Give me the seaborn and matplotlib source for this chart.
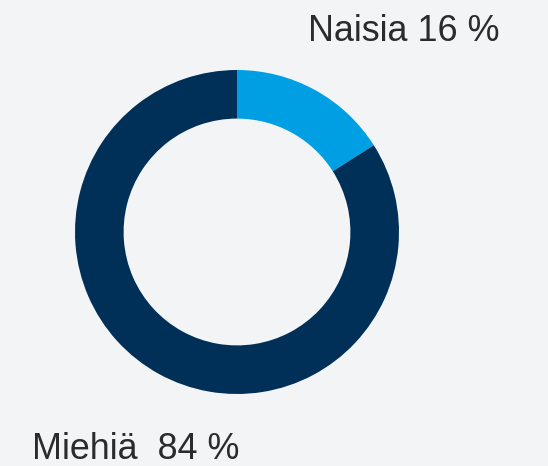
import matplotlib
matplotlib.use('Agg')
import matplotlib.pyplot as plt
import seaborn as sns

labels = ['Naisia', 'Miehiä']
shares = [16, 84]
colors = ['#009fe3', '#003057']

sns.set_theme(style='white')
plt.rcParams['font.family'] = ['Liberation Sans', 'DejaVu Sans']

fig = plt.figure(figsize=(5.48, 4.66), dpi=100)
fig.patch.set_facecolor('#f3f4f6')

ax = fig.add_axes([75 / 548, 72 / 466, 324 / 548, 324 / 466])
ax.set_facecolor('none')
ax.pie(shares, colors=colors, startangle=90, counterclock=False, radius=1,
       wedgeprops=dict(width=0.30, edgecolor='none'))
ax.set_xlim(-1, 1)
ax.set_ylim(-1, 1)
ax.set_aspect('equal')
ax.axis('off')

fig.text(500 / 548, 1 - 41 / 466, f'{labels[0]} {shares[0]} %', ha='right',
         va='baseline', fontsize=25.8, color='#2b2b2b')
fig.text(32 / 548, 1 - 459 / 466, f'{labels[1]}  {shares[1]} %', ha='left',
         va='baseline', fontsize=25.8, color='#2b2b2b')

fig.savefig('out.png', dpi=100, facecolor=fig.get_facecolor())
